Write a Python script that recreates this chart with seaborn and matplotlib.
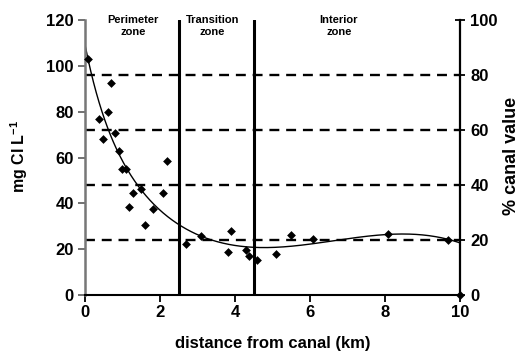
import numpy as np
import matplotlib
matplotlib.use("Agg")
import matplotlib.pyplot as plt
import seaborn as sns
import pandas as pd

# ---- data ----
distance_km = [0.09, 0.68, 0.60, 0.38, 0.79, 0.49, 0.90, 0.99, 1.09, 2.19,
               1.29, 1.48, 2.09, 1.17, 1.80, 1.59, 2.68, 3.08, 3.89, 3.80,
               4.29, 4.38, 4.59, 5.09, 5.49, 6.09, 8.09, 9.69, 10.0]
chloride_mg_l = [102.9, 92.7, 79.8, 76.9, 70.6, 68.0, 63.0, 55.2, 55.0, 58.6,
                 44.4, 46.3, 44.4, 38.6, 37.6, 30.7, 22.3, 25.6, 27.9, 18.6,
                 19.7, 17.0, 15.2, 18.0, 26.3, 24.6, 26.6, 23.9, 0.0]
canal_value_mg_l = 120.0           # 100 % of canal value on the right axis
pct_levels = [20, 40, 60, 80]      # dashed reference levels (% canal value)
zone_bounds_km = [2.5, 4.5]
zone_names = ["Perimeter\nzone", "Transition\nzone", "Interior\nzone"]
zone_label_x = [1.28, 3.4, 6.77]
x_ticks = [0, 2, 4, 6, 8, 10]
y_ticks = [0, 20, 40, 60, 80, 100, 120]
pct_ticks = [0, 20, 40, 60, 80, 100]

sns.set_theme(style="white")
plt.rcParams['font.family'] = ['Liberation Sans', 'DejaVu Sans']
plt.rcParams['mathtext.fontset'] = 'custom'
plt.rcParams['mathtext.rm'] = 'Liberation Sans'
plt.rcParams['mathtext.bf'] = 'Liberation Sans:bold'

df = pd.DataFrame({"distance": distance_km, "chloride": chloride_mg_l})

# smooth trend fitted to the measured wells (exponential decay + cubic),
# excluding the 0 value plotted at 10 km
fit_df = df[df["chloride"] > 0]
fx = fit_df["distance"].to_numpy()
fy = fit_df["chloride"].to_numpy()


def design(xv, b):
    return np.column_stack([np.exp(-b * xv)] + [xv ** k for k in range(4)])


best = None
for b in np.linspace(0.3, 5, 300):
    A = design(fx, b)
    c = np.linalg.lstsq(A, fy, rcond=None)[0]
    r = np.sum((A @ c - fy) ** 2)
    if best is None or r < best[0]:
        best = (r, b, c)
_, b_best, c_best = best
xs = np.linspace(0, 10, 400)
curve = pd.DataFrame({"distance": xs, "chloride": design(xs, b_best) @ c_best})

fig = plt.figure(figsize=(5.21, 3.53), dpi=100)
ax = fig.add_axes([85/521, 1 - 295/353, 375/521, 275/353])

# reference lines
for p in pct_levels:
    ax.axhline(p / 100 * canal_value_mg_l, color="black", lw=1.7,
               dashes=(4.2, 2.9), zorder=1)
for bnd in zone_bounds_km:
    ax.axvline(bnd, color="black", lw=2.2, zorder=1)

sns.lineplot(data=curve, x="distance", y="chloride", color="black", lw=1.0,
             ax=ax, zorder=2)
sns.scatterplot(data=df, x="distance", y="chloride", marker="D", s=20,
                color="black", linewidth=0, ax=ax, zorder=3, clip_on=False)

ax.set_xlim(0, 10)
ax.set_ylim(0, 120)
ax.set_xticks(x_ticks)
ax.set_yticks(y_ticks)
ax.tick_params(axis="x", direction="out", length=5, width=1.3, color="black",
               labelsize=12, pad=2, bottom=True)
ax.tick_params(axis="y", direction="out", length=5, width=1.3, color="#666666",
               labelsize=12, pad=3, left=True)
for lab in ax.get_xticklabels() + ax.get_yticklabels():
    lab.set_fontweight("bold")
    lab.set_color("black")

ax.spines["top"].set_visible(False)
ax.spines["left"].set_color("#777777")
ax.spines["left"].set_linewidth(1.8)
ax.spines["bottom"].set_color("black")
ax.spines["bottom"].set_linewidth(1.5)
ax.spines["right"].set_visible(False)

ax.set_xlabel("distance from canal (km)", fontsize=12, fontweight="bold",
              color="black", labelpad=12)
ax.set_ylabel("")
fig.text(19/521, 1 - 156/353, r"mg Cl L$^{\mathbf{-1}}$", rotation=90,
         ha="center", va="center", fontsize=11.5, fontweight="bold", color="black")

for name, xpos in zip(zone_names, zone_label_x):
    ax.text(xpos, 117.5, name, ha="center", va="center", fontsize=8,
            fontweight="bold", color="black", linespacing=1.25)

# right axis: % of canal value
ax2 = ax.twinx()
ax2.set_ylim(0, 100)
ax2.set_yticks(pct_ticks)
ax2.tick_params(axis="y", direction="inout", length=7, width=1.3, color="black",
                labelsize=12, pad=4, right=True)
for lab in ax2.get_yticklabels():
    lab.set_fontweight("bold")
    lab.set_color("black")
for s in ["top", "left", "bottom"]:
    ax2.spines[s].set_visible(False)
ax2.spines["right"].set_color("black")
ax2.spines["right"].set_linewidth(1.6)
ax2.grid(False)
ax.grid(False)
fig.text(512/521, 1 - 156/353, "% canal value", rotation=90, ha="center",
         va="center", fontsize=13, fontweight="bold", color="black")

fig.savefig("out.png", dpi=100)
